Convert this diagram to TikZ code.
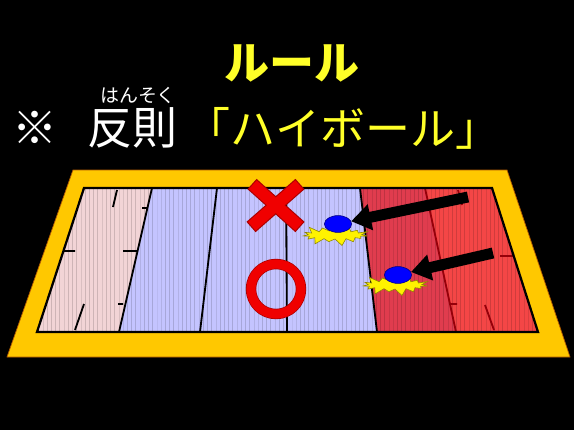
\documentclass[tikz,border=0pt]{standalone}
\usepackage{fontspec}
\newfontfamily\jp{Noto Sans CJK JP}
\usetikzlibrary{arrows.meta,patterns,shapes.geometric,shapes.symbols}

\definecolor{frameyellow}{RGB}{255,200,0}
\definecolor{fieldpink}{RGB}{242,212,214}
\definecolor{fieldblue}{RGB}{196,196,255}
\definecolor{fielddark}{RGB}{224,60,78}
\definecolor{fieldred}{RGB}{244,70,70}
\definecolor{linered}{RGB}{150,0,10}
\definecolor{xred}{RGB}{240,0,0}
\definecolor{xdark}{RGB}{170,0,0}
\definecolor{textyellow}{RGB}{255,255,40}

\begin{document}
\begin{tikzpicture}
  [x=0.025cm,y=-0.025cm,
   every node/.style={font=\jp\fontsize{32pt}{36pt}\selectfont,inner sep=0pt},
   stripes/.style={fill=#1,postaction={pattern=vertical lines,pattern color=#1!85!black}},
   fieldline/.style={line width=1.3pt},
   puck/.style={ellipse,fill=blue,draw=blue!50!black,line width=0.4pt,
     minimum width=0.68cm,minimum height=0.42cm},
   spark/.style={starburst,fill=yellow,draw=olive,line width=0.4pt,
     starburst points=15,starburst point height=0.2cm,
     minimum width=1.75cm,minimum height=0.6cm},
   hitarrow/.style={line width=7.8pt,-{Triangle[length=14pt,width=18pt]}}]

  % background
  \fill[black] (0,0) rectangle (574,430);

  % yellow frame
  \filldraw[fill=frameyellow,draw=orange!70!black,line width=0.5pt]
    (73,170) -- (507,170) -- (570,357) -- (7,357) -- cycle;

  % the four coloured parts of the field
  \path[stripes=fieldpink] (84,188) -- (152,188) -- (119,332) -- (37,332) -- cycle;
  \path[stripes=fieldblue] (152,188) -- (360,188) -- (377,332) -- (119,332) -- cycle;
  \path[stripes=fielddark] (360,188) -- (425,188) -- (456,332) -- (377,332) -- cycle;
  \path[stripes=fieldred] (425,188) -- (492,188) -- (538,332) -- (456,332) -- cycle;

  % dividing lines
  \foreach \top/\bot in {152/119,217/200,286/287,360/377}
    \draw[fieldline] (\top,188) -- (\bot,332);
  \draw[fieldline,linered] (425,188) -- (456,332);

  % short marks, left side
  \draw[fieldline] (117,190) -- (113,207) (84,304) -- (75,330)
    (63,251) -- (75,251) (123,251) -- (137,251)
    (142,208) -- (147,208) (118,304) -- (123,304);
  % short marks, right side
  \draw[fieldline,linered] (458,190) -- (462,205) (485,305) -- (494,330)
    (500,256) -- (513,256) (450,304) -- (457,304);

  % field border
  \draw[line width=1.6pt] (84,188) -- (492,188) -- (538,332) -- (37,332) -- cycle;

  % X mark
  \draw[xdark,line width=9.8pt] (252,184) -- (300,227);
  \draw[xdark,line width=9.8pt] (300,184) -- (251,227);
  \draw[xred,line width=8.2pt,shorten <=0.8pt,shorten >=0.8pt] (252,184) -- (300,227);
  \draw[xred,line width=8.2pt,shorten <=0.8pt,shorten >=0.8pt] (300,184) -- (251,227);

  % O mark
  \node[circle,draw=xdark,double=xred,double distance=6.4pt,line width=0.5pt,
    minimum size=1.25cm] (okmark) at (276,289) {};

  % pucks with their sparks
  \node[spark] (spark1) at (335,235) {};
  \node[spark] (spark2) at (395,285) {};
  \node[puck] (puck1) at (338,224) {};
  \node[puck] (puck2) at (398,275) {};

  \coordinate (tail1) at (468,197);
  \coordinate (tail2) at (493,253);
  \foreach \from/\to in {tail1/puck1,tail2/puck2}
    \draw[hitarrow] (\from) -- (\to);

  % text
  \node[textyellow] (title) at (292,63) {\bfseries ルール};
  \node[white] (kome) at (35,128) {※};
  \node[white] (hansoku) at (132,128) {反則};
  \node[white,font=\jp\fontsize{13.5pt}{15pt}\selectfont] (ruby) at (138,95) {はんそく};
  \node[textyellow] (highball) at (343,128) {「ハイボール」};
\end{tikzpicture}
\end{document}
